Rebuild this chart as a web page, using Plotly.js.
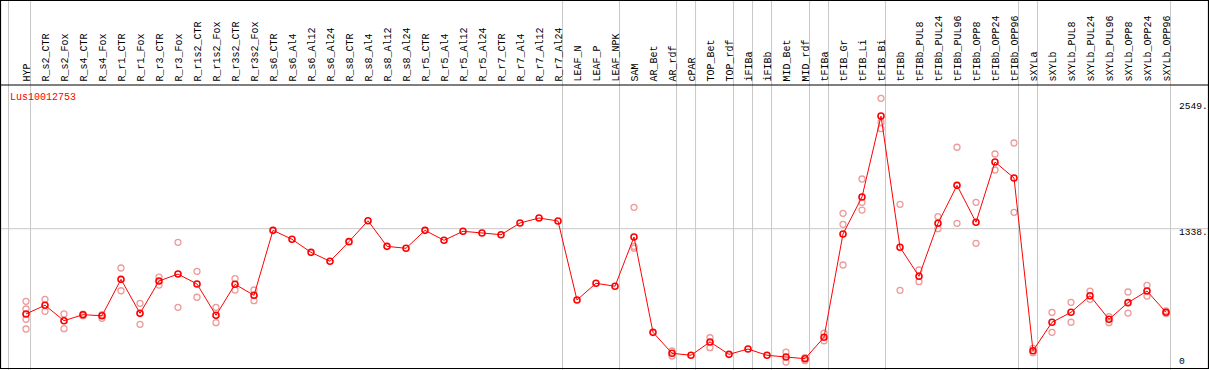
<!DOCTYPE html>
<html>
<head>
<meta charset="utf-8">
<script src="https://cdn.plot.ly/plotly-3.0.1.min.js"></script>
<style>html,body{margin:0;padding:0;background:#fff;}#chart{width:1209px;height:370px;}</style>
</head>
<body>
<div id="chart"></div>
<script>
const geneName = "Lus10012753";
const categories = ["HYP","R_s2_CTR","R_s2_Fox","R_s4_CTR","R_s4_Fox","R_r1_CTR","R_r1_Fox","R_r3_CTR","R_r3_Fox","R_r1s2_CTR","R_r1s2_Fox","R_r3s2_CTR","R_r3s2_Fox","R_s6_CTR","R_s6_Al4","R_s6_Al12","R_s6_Al24","R_s8_CTR","R_s8_Al4","R_s8_Al12","R_s8_Al24","R_r5_CTR","R_r5_Al4","R_r5_Al12","R_r5_Al24","R_r7_CTR","R_r7_Al4","R_r7_Al12","R_r7_Al24","LEAF_N","LEAF_P","LEAF_NPK","SAM","AR_Bet","AR_rdf","cPAR","TOP_Bet","TOP_rdf","iFIBa","iFIBb","MID_Bet","MID_rdf","tFIBa","tFIB_Gr","tFIB_Li","tFIB_Bi","tFIBb","tFIBb_PUL8","tFIBb_PUL24","tFIBb_PUL96","tFIBb_OPP8","tFIBb_OPP24","tFIBb_OPP96","sXYLa","sXYLb","sXYLb_PUL8","sXYLb_PUL24","sXYLb_PUL96","sXYLb_OPP8","sXYLb_OPP24","sXYLb_OPP96"];
const meanValues = [516,600,451,509,499,850,522,834,901,805,503,802,696,1322,1236,1110,1024,1213,1415,1168,1149,1322,1226,1313,1297,1280,1393,1441,1412,651,812,783,1258,339,137,118,246,127,178,118,101,85,291,1287,1644,2424,1159,879,1390,1756,1400,1981,1827,162,436,532,692,465,625,737,532];
const replicates = [[638,564,465,371],[657,542],[516,374],[515,500],[510,474],[959,740],[619,416],[872,795],[1207,580],[927,677],[580,432],[856,747],[747,644],[],[],[],[],[],[],[],[],[],[],[],[],[],[],[],[],[],[],[],[1544,1168,1150],[],[159,111],[],[287,191],[],[],[],[149,53],[94,66],[330,258],[1486,1380,988],[1817,1592,1518],[2595,2364,2302],[1573,744],[940,827],[1454,1338],[2123,1390],[1592,1197],[2058,1904],[2164,1496],[185,143],[532,339],[628,436],[737,657],[490,432],[728,525],[792,689],[545,520]];
const groupEnds = [-1.16,0,28,31,34,35,37,38,39,41,42,45,52,53,60];
const tickValues = [0,1338,2549];
const tickLabels = ["0","1338.","2549."];

const W = 1209, H = 370;
const px = p => p / W;
const py = p => 1 - p / H;
const idx = categories.map((c, i) => i);

const repX = [], repY = [];
replicates.forEach((arr, i) => arr.forEach(v => { repX.push(i); repY.push(v); }));

const traces = [
  {x: repX, y: repY, type: 'scatter', mode: 'markers', hoverinfo: 'skip',
   marker: {symbol: 'circle-open', size: 6, color: '#ee9a9a', line: {width: 1.3, color: '#ee9a9a'}}},
  {x: idx, y: meanValues, type: 'scatter', mode: 'lines+markers',
   line: {color: '#ff0000', width: 1},
   marker: {symbol: 'circle-open', size: 6, color: '#ff0000', line: {width: 1.6, color: '#ff0000'}}}
];

const mono = "Liberation Mono, DejaVu Sans Mono, monospace";
const shapes = [];
groupEnds.forEach(g => shapes.push({type: 'line', xref: 'x', yref: 'paper', x0: g + 0.24, x1: g + 0.24, y0: 0, y1: 1, line: {color: '#c8c8c8', width: 1}, layer: 'below'}));
shapes.push({type: 'line', xref: 'paper', yref: 'y', x0: 0, x1: 1, y0: 1338, y1: 1338, line: {color: '#c8c8c8', width: 1}, layer: 'below'});
shapes.push({type: 'line', xref: 'paper', yref: 'paper', x0: 0, x1: 1, y0: py(85), y1: py(85), line: {color: '#000', width: 1.2}});
shapes.push({type: 'rect', xref: 'paper', yref: 'paper', x0: px(0.5), x1: px(1208.5), y0: py(368.5), y1: py(0.5), line: {color: '#000', width: 1.2}});

const annotations = categories.map((c, i) => ({
  text: c, x: i, xref: 'x', y: py(83), yref: 'paper', xanchor: 'center', yanchor: 'bottom', xshift: 0.5,
  textangle: -90, showarrow: false, borderpad: 0, font: {family: mono, size: 10, color: '#000'}
}));
annotations.push({text: geneName, x: px(9), y: py(97.5), xref: 'paper', yref: 'paper', xanchor: 'left', yanchor: 'middle', showarrow: false, borderpad: 0, font: {family: mono, size: 10, color: '#ff0000'}});
const labelPy = [361.7, 232.3, 106.7];
tickValues.forEach((v, k) => annotations.push({text: tickLabels[k], x: px(1178), y: py(labelPy[k]), xref: 'paper', yref: 'paper', xanchor: 'left', yanchor: 'middle', showarrow: false, borderpad: 0, font: {family: mono, size: 9.6, color: '#000'}}));

const layout = {
  width: W, height: H, margin: {l: 0, r: 0, t: 0, b: 0},
  paper_bgcolor: '#fff', plot_bgcolor: '#fff', showlegend: false,
  xaxis: {range: [-26/19, (W - 26)/19], visible: false, showgrid: false, zeroline: false},
  yaxis: {range: [-2.5*9.64, 367.5*9.64], visible: false, showgrid: false, zeroline: false},
  shapes: shapes, annotations: annotations
};
Plotly.newPlot('chart', traces, layout, {staticPlot: true, displayModeBar: false});
</script>
</body>
</html>
